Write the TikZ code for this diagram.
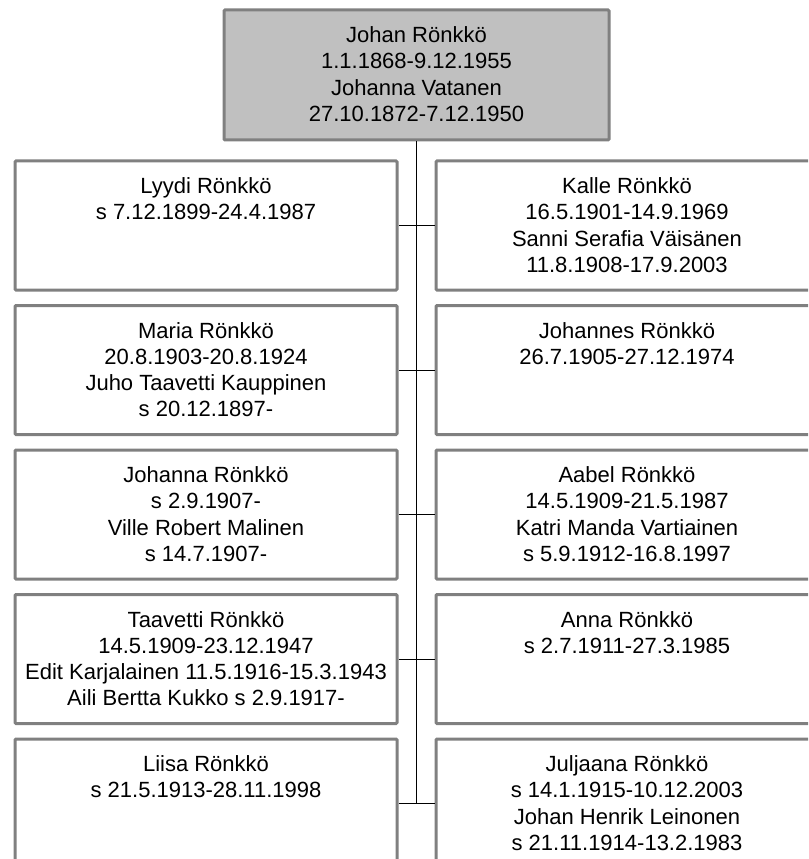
\documentclass[tikz,border=0pt]{standalone}
\usepackage{fontspec}
\setmainfont{Liberation Sans}
\begin{document}
\begin{tikzpicture}[x=0.75pt,y=-0.75pt,
  person/.style={draw=boxgray, line width=2.25pt, fill=white, rounded corners=0.8pt,
    minimum width=286.5pt, minimum height=96.75pt, inner sep=0pt},
  root/.style={person, fill=rootfill, minimum width=288.75pt, minimum height=97.5pt},
  txt/.style={anchor=north, inner sep=0pt, align=center,
    font=\fontsize{16.5}{19.7}\selectfont},
  link/.style={draw=black, line width=0.75pt}]
\definecolor{boxgray}{HTML}{808080}
\definecolor{rootfill}{HTML}{C0C0C0}
\useasboundingbox (0,0) rectangle (808,859);
\clip (0,0) rectangle (808,859);
% root
\node[root] (root) at (416.5,75) {};
\node[txt] (troot) at (416.5,24) {\strut Johan Rönkkö\\1.1.1868-9.12.1955\\Johanna Vatanen\\27.10.1872-7.12.1950};
% rows
\node[person] (L1) at (206,225.5) {};
\node[person] (R1) at (627,225.5) {};
\node[person] (L2) at (206,370) {};
\node[person] (R2) at (627,370) {};
\node[person] (L3) at (206,514.5) {};
\node[person] (R3) at (627,514.5) {};
\node[person] (L4) at (206,659) {};
\node[person] (R4) at (627,659) {};
\node[person] (L5) at (206,803.5) {};
\node[person] (R5) at (627,803.5) {};
% texts
\node[txt] (tL1) at (206,175) {\strut Lyydi Rönkkö\\s 7.12.1899-24.4.1987};
\node[txt] (tR1) at (627,175) {\strut Kalle Rönkkö\\16.5.1901-14.9.1969\\Sanni Serafia Väisänen\\11.8.1908-17.9.2003};
\node[txt] (tL2) at (206,319.5) {\strut Maria Rönkkö\\20.8.1903-20.8.1924\\Juho Taavetti Kauppinen\\s 20.12.1897-};
\node[txt] (tR2) at (627,319.5) {\strut Johannes Rönkkö\\26.7.1905-27.12.1974};
\node[txt] (tL3) at (206,464) {\strut Johanna Rönkkö\\s 2.9.1907-\\Ville Robert Malinen\\s 14.7.1907-};
\node[txt] (tR3) at (627,464) {\strut Aabel Rönkkö\\14.5.1909-21.5.1987\\Katri Manda Vartiainen\\s 5.9.1912-16.8.1997};
\node[txt] (tL4) at (206,608.5) {\strut Taavetti Rönkkö\\14.5.1909-23.12.1947\\Edit Karjalainen 11.5.1916-15.3.1943\\Aili Bertta Kukko s 2.9.1917-};
\node[txt] (tR4) at (627,608.5) {\strut Anna Rönkkö\\s 2.7.1911-27.3.1985};
\node[txt] (tL5) at (206,753) {\strut Liisa Rönkkö\\s 21.5.1913-28.11.1998};
\node[txt] (tR5) at (627,753) {\strut Juljaana Rönkkö\\s 14.1.1915-10.12.2003\\Johan Henrik Leinonen\\s 21.11.1914-13.2.1983};
% connectors
\coordinate (trunkend) at (416.5,803.5);
\draw[link] (root.south) -- (trunkend);
\draw[link] (L1.east) -- (R1.west);
\draw[link] (L2.east) -- (R2.west);
\draw[link] (L3.east) -- (R3.west);
\draw[link] (L4.east) -- (R4.west);
\draw[link] (L5.east) -- (R5.west);
\end{tikzpicture}
\end{document}
